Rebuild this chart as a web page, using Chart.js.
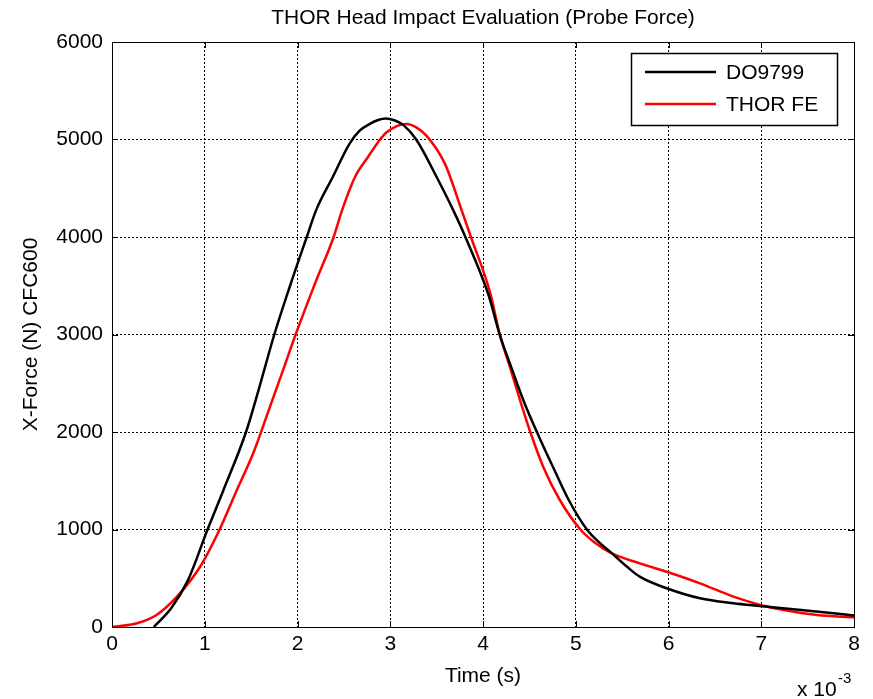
<!DOCTYPE html>
<html>
<head>
<meta charset="utf-8">
<script src="https://cdn.jsdelivr.net/npm/chart.js@4"></script>
<style>
  html, body { margin: 0; padding: 0; background: #fff; }
  #wrap { width: 873px; height: 699px; }
</style>
</head>
<body>
<div id="wrap"><canvas id="myChart" width="873" height="699"></canvas></div>
<script>
// time in ms (axis shows x 10^-3 s), force in N
const doTime = [0.45, 0.64, 0.82, 1.03, 1.2, 1.445, 1.58, 1.75, 1.92, 2.1, 2.2, 2.38, 2.56, 2.67, 2.78, 2.87, 2.95, 3.05, 3.14, 3.28, 3.5, 3.68, 3.81, 4.06, 4.18, 4.31, 4.45, 4.6, 4.76, 4.92, 5.12, 5.25, 5.39, 5.55, 5.69, 5.98, 6.34, 6.7, 6.99, 7.43, 7.78, 8.0];
const doForce = [0, 195, 482, 1000, 1400, 2000, 2430, 3000, 3500, 4000, 4273, 4615, 4955, 5090, 5160, 5200, 5215, 5195, 5150, 5000, 4615, 4273, 4000, 3405, 3000, 2650, 2290, 1960, 1630, 1310, 1000, 870, 755, 620, 516, 397, 294, 243, 215, 174, 140, 118];

const feTime = [0, 0.27, 0.48, 0.7, 0.95, 1.16, 1.33, 1.53, 1.7, 1.85, 1.98, 2.2, 2.39, 2.48, 2.62, 2.76, 2.89, 2.96, 3.09, 3.18, 3.28, 3.39, 3.59, 3.77, 3.87, 4.08, 4.18, 4.29, 4.4, 4.51, 4.65, 4.83, 5.05, 5.2, 5.39, 5.69, 5.98, 6.34, 6.7, 6.99, 7.24, 7.6, 8.0];
const feForce = [0, 38, 123, 311, 618, 1000, 1370, 1800, 2250, 2650, 3000, 3550, 4000, 4273, 4615, 4820, 5000, 5075, 5145, 5160, 5125, 5040, 4750, 4273, 4000, 3420, 3000, 2667, 2325, 2000, 1642, 1300, 1000, 870, 755, 653, 567, 448, 311, 226, 174, 123, 99];

const seriesNames = ["DO9799", "THOR FE"];
const xTicks = [0, 1, 2, 3, 4, 5, 6, 7, 8];
const yTicks = [0, 1000, 2000, 3000, 4000, 5000, 6000];

const FONT = "'Liberation Sans', Arial, sans-serif";

function toPoints(xs, ys) {
  return xs.map((x, i) => ({ x: x, y: ys[i] }));
}

// title, axis labels, box, inward ticks and legend drawn like matlab
const matlabDecor = {
  id: "matlabDecor",
  afterDraw(chart) {
    const ctx = chart.ctx;
    const a = chart.chartArea;
    const xs = chart.scales.x;
    const ys = chart.scales.y;
    ctx.save();
    ctx.fillStyle = "#000";
    ctx.strokeStyle = "#000";

    // box
    ctx.lineWidth = 1;
    ctx.setLineDash([]);
    ctx.strokeRect(Math.round(a.left) + 0.5, Math.round(a.top) + 0.5,
      Math.round(a.right - a.left), Math.round(a.bottom - a.top));

    // inward ticks on all sides
    ctx.beginPath();
    xTicks.forEach((v) => {
      const px = Math.round(xs.getPixelForValue(v)) + 0.5;
      ctx.moveTo(px, a.bottom); ctx.lineTo(px, a.bottom - 6);
      ctx.moveTo(px, a.top); ctx.lineTo(px, a.top + 6);
    });
    yTicks.forEach((v) => {
      const py = Math.round(ys.getPixelForValue(v)) + 0.5;
      ctx.moveTo(a.left, py); ctx.lineTo(a.left + 6, py);
      ctx.moveTo(a.right, py); ctx.lineTo(a.right - 6, py);
    });
    ctx.stroke();

    // title
    ctx.textAlign = "center";
    ctx.textBaseline = "middle";
    ctx.font = "21px " + FONT;
    ctx.fillText("THOR Head Impact Evaluation (Probe Force)", (a.left + a.right) / 2, 18);

    // x label
    ctx.fillText("Time (s)", (a.left + a.right) / 2, 676);

    // exponent
    ctx.textAlign = "left";
    ctx.textBaseline = "alphabetic";
    ctx.fillText("x 10", 797, 696);
    ctx.font = "15px " + FONT;
    ctx.fillText("-3", 838, 683);

    // y label
    ctx.save();
    ctx.translate(31, (a.top + a.bottom) / 2);
    ctx.rotate(-Math.PI / 2);
    ctx.textAlign = "center";
    ctx.textBaseline = "middle";
    ctx.font = "21px " + FONT;
    ctx.fillText("X-Force (N) CFC600", 0, 0);
    ctx.restore();

    // legend
    const lx = 631, ly = 53, lw = 206, lh = 72;
    ctx.fillStyle = "#fff";
    ctx.fillRect(lx, ly, lw, lh);
    ctx.strokeStyle = "#000";
    ctx.lineWidth = 1.5;
    ctx.strokeRect(lx + 0.5, ly + 0.5, lw, lh);
    chart.data.datasets.forEach((ds, i) => {
      const yy = 72 + i * 32;
      ctx.strokeStyle = ds.borderColor;
      ctx.lineWidth = 2.5;
      ctx.beginPath();
      ctx.moveTo(645, yy);
      ctx.lineTo(716, yy);
      ctx.stroke();
      ctx.fillStyle = "#000";
      ctx.font = "21px " + FONT;
      ctx.textAlign = "left";
      ctx.textBaseline = "middle";
      ctx.fillText(ds.label, 726, yy + 1);
    });
    ctx.restore();
  },
};

const ctx = document.getElementById("myChart").getContext("2d");
const myChart = new Chart(ctx, {
  type: "line",
  data: {
    datasets: [
      {
        label: seriesNames[0],
        data: toPoints(doTime, doForce),
        borderColor: "#000000",
        borderWidth: 2.5,
        pointRadius: 0,
        cubicInterpolationMode: "monotone",
        fill: false,
      },
      {
        label: seriesNames[1],
        data: toPoints(feTime, feForce),
        borderColor: "#ff0000",
        borderWidth: 2.5,
        pointRadius: 0,
        cubicInterpolationMode: "monotone",
        fill: false,
      },
    ],
  },
  options: {
    responsive: false,
    animation: false,
    layout: { padding: { top: 42, right: 19, left: 0, bottom: 0 } },
    plugins: {
      legend: { display: false },
      title: { display: false },
      tooltip: { enabled: false },
    },
    scales: {
      x: {
        type: "linear",
        min: 0,
        max: 8,
        afterFit: (s) => { s.height = 72; },
        afterBuildTicks: (s) => { s.ticks = xTicks.map((v) => ({ value: v })); },
        ticks: {
          color: "#000",
          font: { family: FONT, size: 21 },
          padding: 5,
          maxRotation: 0,
          callback: (v) => String(v),
        },
        grid: { color: "#000", lineWidth: 1, drawTicks: false },
        border: { display: false, dash: [2, 2] },
      },
      y: {
        type: "linear",
        min: 0,
        max: 6000,
        afterFit: (s) => { s.width = 112; },
        afterBuildTicks: (s) => { s.ticks = yTicks.map((v) => ({ value: v })); },
        ticks: {
          color: "#000",
          font: { family: FONT, size: 21 },
          padding: 9,
          callback: (v) => String(v),
        },
        grid: { color: "#000", lineWidth: 1, drawTicks: false },
        border: { display: false, dash: [2, 2] },
      },
    },
  },
  plugins: [matlabDecor],
});
</script>
</body>
</html>
